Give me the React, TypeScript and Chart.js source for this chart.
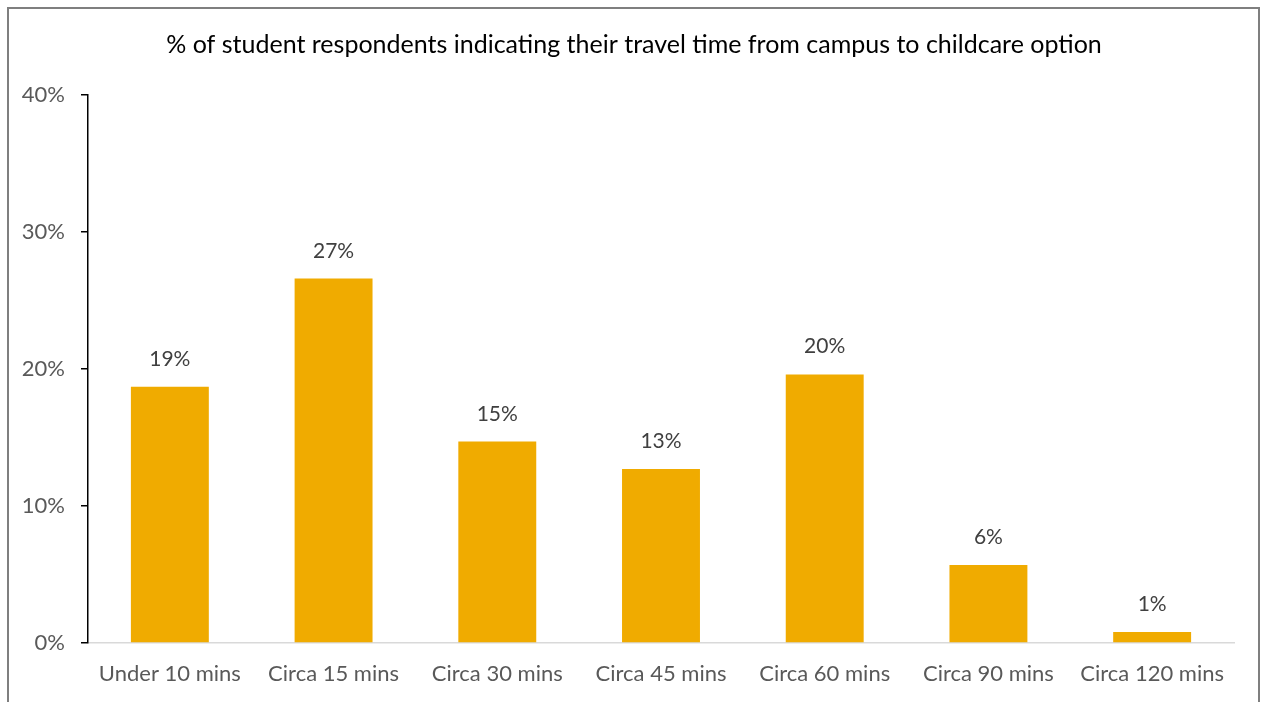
import React, { useEffect, useRef } from "react";
import { Chart, registerables } from "chart.js";

Chart.register(...registerables);

const categories = ["Under 10 mins", "Circa 15 mins", "Circa 30 mins", "Circa 45 mins", "Circa 60 mins", "Circa 90 mins", "Circa 120 mins"];
const values = [18.7, 26.6, 14.7, 12.7, 19.6, 5.7, 0.8];
const valueLabels = ["19%", "27%", "15%", "13%", "20%", "6%", "1%"];
const titleText = "% of student respondents indicating their travel time from campus to childcare option";

const FONT = "Lato, 'Open Sans', sans-serif";

const dataLabelPlugin = {
  id: "dataLabels",
  afterDatasetsDraw(chart: any) {
    const ctx = chart.ctx;
    const meta = chart.getDatasetMeta(0);
    ctx.save();
    ctx.font = `21px ${FONT}`;
    ctx.fillStyle = "#404040";
    ctx.textAlign = "center";
    ctx.textBaseline = "alphabetic";
    meta.data.forEach((bar: any, i: number) => {
      ctx.fillText(valueLabels[i], bar.x, bar.y - 21);
    });
    ctx.restore();
  },
};

const centeredTitlePlugin = {
  id: "centeredTitle",
  afterDraw(chart: any) {
    const ctx = chart.ctx;
    ctx.save();
    ctx.font = `25px ${FONT}`;
    ctx.fillStyle = "#000000";
    ctx.textAlign = "center";
    ctx.textBaseline = "middle";
    ctx.fillText(titleText, 634, 45);
    ctx.restore();
  },
};

export default function App() {
  const ref = useRef<HTMLCanvasElement | null>(null);
  useEffect(() => {
    if (!ref.current) return;
    const chart = new Chart(ref.current, {
      type: "bar",
      data: {
        labels: categories,
        datasets: [
          {
            data: values,
            backgroundColor: "#F0AB00",
            barPercentage: 0.476,
            categoryPercentage: 1,
          },
        ],
      },
      options: {
        responsive: false,
        animation: false,
        layout: { padding: { left: 0, right: 32, top: 95, bottom: 0 } },
        plugins: {
          legend: { display: false },
          tooltip: { enabled: false },
          title: { display: false },
        },
        scales: {
          x: {
            grid: { display: false, drawTicks: false },
            border: { display: true, color: "#D9D9D9", width: 1.5 },
            ticks: {
              color: "#595959",
              font: { family: FONT, size: 22 },
              padding: 18,
              maxRotation: 0,
              autoSkip: false,
            },
            afterFit(scale: any) {
              scale.height = 59;
            },
          },
          y: {
            min: 0,
            max: 40,
            ticks: {
              stepSize: 10,
              color: "#595959",
              font: { family: FONT, size: 22 },
              padding: 16,
              callback: (v: any) => `${v}%`,
            },
            grid: {
              drawOnChartArea: false,
              drawTicks: true,
              tickLength: 7,
              color: "#000000",
              lineWidth: 1.5,
            },
            border: { display: true, color: "#000000", width: 1.5 },
            afterFit(scale: any) {
              scale.width = 88;
            },
          },
        },
      },
      plugins: [dataLabelPlugin, centeredTitlePlugin],
    });
    return () => chart.destroy();
  }, []);

  return (
    <div style={{ position: "fixed", left: 0, top: 0, width: 1266, height: 702, background: "#fff", overflow: "hidden" }}>
      <canvas ref={ref} width={1266} height={702} style={{ position: "absolute", left: 0, top: 0 }} />
      <div
        style={{
          position: "absolute",
          left: 7,
          top: 7,
          width: 1249,
          height: 720,
          border: "2px solid #7F7F7F",
          pointerEvents: "none",
        }}
      />
    </div>
  );
}
